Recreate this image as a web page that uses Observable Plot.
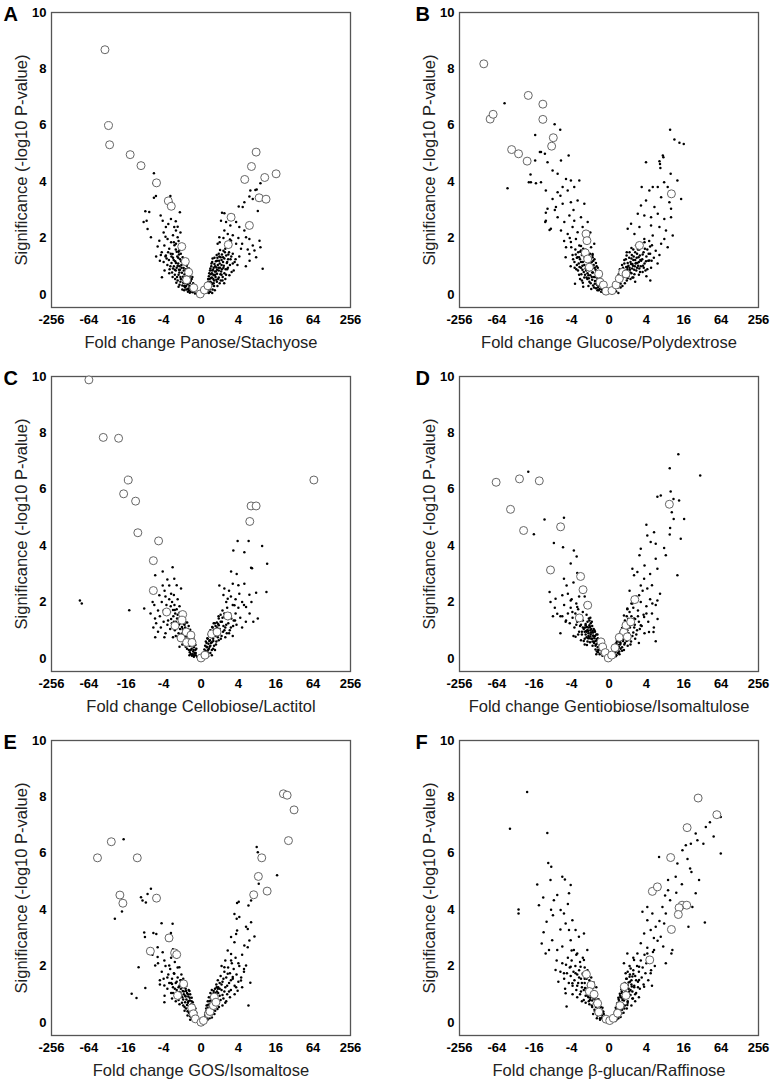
<!DOCTYPE html>
<html><head><meta charset="utf-8">
<script src="https://cdn.jsdelivr.net/npm/d3@7"></script>
<script src="https://cdn.jsdelivr.net/npm/@observablehq/plot@0.6"></script>
<style>
body{margin:0;background:#fff;}
#wrap{position:relative;width:773px;height:1083px;background:#fff;font-family:"Liberation Sans",Arial,sans-serif;}
#wrap svg{position:absolute;}
</style></head><body><div id="wrap"></div>
<script>
// x values are log2 fold change (axis labelled as signed powers of 2), y = -log10 P
const xTicks = [-8,-6,-4,-2,0,2,4,6,8];
const yTicks = [0,2,4,6,8,10];
const letters = ["A","B","C","D","E","F"];
const xTitles = ["Fold change Panose/Stachyose","Fold change Glucose/Polydextrose","Fold change Cellobiose/Lactitol","Fold change Gentiobiose/Isomaltulose","Fold change GOS/Isomaltose","Fold change β-glucan/Raffinose"];
const yTitle = "Significance (-log10 P-value)";

const circlesA = [[-5.14,8.68],[-4.95,5.99],[-4.89,5.31],[-3.79,4.96],[-3.21,4.57],[-2.38,3.96],[-1.75,3.32],[-1.59,3.13],[-1.03,1.70],[-0.84,1.17],[-0.66,0.79],[-0.77,0.52],[-0.39,0.24],[-0.04,0.02],[0.18,0.16],[0.37,0.31],[1.46,1.77],[1.61,2.74],[2.59,2.45],[2.34,4.08],[2.70,4.54],[2.95,5.05],[3.41,4.15],[4.02,4.28],[3.11,3.43],[3.48,3.38]];
const dotsA = [[-2.52,4.30],[-2.55,3.95],[-2.41,3.49],[-2.52,3.43],[-1.64,3.49],[-1.57,3.27],[-1.13,2.92],[-2.77,2.93],[-3.07,2.57],[-2.86,2.32],[-2.68,2.03],[-2.09,0.61],[-2.98,2.95],[-2.91,2.62],
[-2.16,2.8],[-2.05,2.62],[-1.88,2.39],[-1.61,2.68],[-1.43,2.39],[-1.34,2.27],[-1.25,2.03],[-2.32,1.70],[-2.23,1.91],[-1.96,1.74],[-1.79,1.97],[-1.70,1.62],[-1.52,1.44],[-1.34,1.80],[-1.16,1.56],[-1.88,1.38],[-2.0,2.2],[-1.9,2.05],[-1.75,2.5],[-1.5,2.1],[-1.45,1.85],[-1.2,1.9],[-2.1,1.5],[-2.4,1.35],[-1.6,1.85],[-1.25,2.4],[-1.35,2.6],[-1.1,2.2],[-2.2,1.2],
[-0.32,0.04],[-0.38,0.12],[-0.45,0.08],[-0.52,0.18],[-0.41,0.22],[-0.58,0.28],[-0.49,0.33],[-0.66,0.21],[-0.62,0.4],[-0.55,0.48],[-0.72,0.36],[-0.69,0.52],[-0.78,0.44],[-0.61,0.62],[-0.83,0.58],[-0.74,0.68],[-0.91,0.49],[-0.88,0.72],[-0.68,0.8],[-0.96,0.63],[-0.81,0.9],[-1.02,0.77],[-0.93,0.94],[-1.1,0.62],[-0.76,1.02],[-1.05,1.05],[-1.18,0.88],[-0.89,1.15],[-1.22,1.1],[-1.12,1.25],[-0.98,1.32],[-1.3,0.95],[-1.27,1.35],[-1.38,1.18],[-1.08,1.45],[-1.45,1.0],[-1.2,1.52],[-1.5,1.3],[-1.35,1.6],[-1.58,1.12],[-1.62,1.45],[-1.15,1.68],[-1.72,1.22],[-1.42,1.75],[-1.8,1.05],[-1.25,0.5],[-1.4,0.7],[-1.55,0.78],[-1.68,0.9],[-1.32,0.42],[-1.0,0.32],[-1.15,0.35],[-0.85,0.25],[-0.9,0.15],[-0.7,0.1],[-0.6,0.06],[-1.9,1.35],[-2.0,1.15],[-1.95,0.85],[-2.15,1.4],[-0.5,0.55],[-0.55,0.1],[-0.64,0.14],[-0.8,0.3],[-0.95,0.42],[-1.08,0.55],[-1.2,0.7],[-1.35,0.85],[-0.72,0.92],[-0.86,1.08],[-1.0,1.2],[-1.15,1.0],[-0.58,0.7],
[1.125,2.90],[1.25,2.88],[2.02,3.12],[2.23,3.10],[2.32,3.27],[2.64,3.69],[2.77,3.39],[2.91,3.71],[3.04,2.96],[3.18,3.95],[2.59,3.48],[1.75,2.8],[1.88,2.57],[2.05,2.39],[2.32,2.27],[2.41,2.03],[2.59,1.97],[2.77,1.74],[2.86,1.56],[2.95,1.32],[3.13,1.91],[3.18,1.68],[3.30,0.91],[2.59,1.44],[2.14,1.62],[1.88,1.80],[1.61,1.91],[1.43,2.15],[1.25,2.27],[0.98,2.03],[0.89,1.80],[1.07,2.62],[1.34,2.57],[1.57,2.45],[2.4,1.0],[2.5,1.6],[2.2,1.8],[2.6,1.2],[1.55,1.95],[1.7,2.1],[2.0,2.0],[1.2,2.0],[1.0,1.85],[2.98,3.72],
[0.3,0.06],[0.36,0.14],[0.42,0.05],[0.33,0.25],[0.47,0.2],[0.4,0.36],[0.55,0.3],[0.5,0.45],[0.62,0.38],[0.45,0.55],[0.58,0.6],[0.7,0.5],[0.52,0.72],[0.66,0.7],[0.78,0.62],[0.6,0.85],[0.74,0.82],[0.86,0.74],[0.68,0.95],[0.82,0.96],[0.95,0.85],[0.72,1.08],[0.9,1.05],[1.02,0.95],[0.8,1.18],[0.97,1.2],[1.1,1.05],[0.88,1.3],[1.05,1.32],[1.18,1.15],[0.95,1.45],[1.12,1.42],[1.25,1.28],[1.02,1.58],[1.2,1.55],[1.35,1.38],[1.3,1.62],[1.45,1.25],[1.5,1.5],[1.55,1.05],[1.62,1.35],[1.4,0.9],[1.25,0.75],[1.1,0.7],[0.95,0.6],[0.85,0.45],[0.7,0.3],[0.62,0.18],[0.5,0.1],[1.7,1.1],[1.75,0.85],[1.85,1.25],[1.95,1.05],[2.05,1.35],[1.3,0.55],[1.15,0.5],[1.0,0.4],[0.38,0.45],[0.42,0.65],[0.48,0.85],[0.55,1.0],[0.6,1.15],[0.44,0.3],[0.56,0.42],[0.66,0.55],[0.76,0.7],[0.86,0.88],[1.08,0.82],[1.2,0.95],[1.38,1.12],[0.35,0.2]];
const coreA = [[-0.35,0.3],[-0.42,0.4],[-0.5,0.25],[-0.46,0.62],[-0.56,0.52],[-0.62,0.3],[-0.68,0.45],[-0.74,0.58],[-0.7,0.2],[-0.8,0.75],[-0.86,0.4],[-0.92,0.85],[-0.98,0.52],[-1.04,0.95],[-1.1,0.45],[-1.16,0.78],[-1.22,1.3],[-1.28,0.62],[-1.34,1.12],[-1.4,0.88],[-1.46,1.22],[-1.52,0.62],[-1.58,1.35],[-1.64,1.0],[-1.7,0.75],[-1.76,1.5],[-1.84,1.28],[-0.64,0.92],[-0.72,1.12],[-0.84,1.22],[-0.96,1.08],[-1.06,1.18],[-1.18,1.42],[-1.3,1.52],[-0.9,0.3],[-1.0,0.18],[-0.78,0.18],[-1.2,0.28],[-1.38,0.55],[-1.5,0.92],[-0.55,0.85],[-0.6,0.42],[-0.88,0.62],[-1.12,0.88],[-1.25,1.02],
[0.32,0.38],[0.38,0.55],[0.44,0.75],[0.5,0.92],[0.56,1.1],[0.62,1.28],[0.68,0.4],[0.74,0.15],[0.8,0.82],[0.86,1.2],[0.92,0.55],[0.98,1.35],[1.04,0.72],[1.1,1.22],[1.16,0.62],[1.22,1.02],[1.28,1.5],[1.34,0.7],[1.4,1.15],[1.46,1.42],[1.52,0.68],[1.58,1.25],[1.64,0.8],[1.7,1.45],[1.8,1.15],[0.4,0.2],[0.46,0.1],[0.52,0.58],[0.58,0.75],[0.64,0.88],[0.7,0.68],[0.76,1.0],[0.82,0.52],[0.88,0.3],[0.94,0.95],[1.0,1.1],[1.06,0.5],[1.12,0.9],[1.18,1.32],[1.24,0.4],[1.32,0.9],[1.44,0.95],[0.72,1.3],[0.84,1.4],[0.6,0.05]];

const circlesB = [[-6.70,8.18],[-6.36,6.22],[-6.20,6.39],[-5.21,5.14],[-4.84,4.99],[-4.38,4.73],[-4.32,7.06],[-3.54,6.75],[-3.54,6.21],[-2.98,5.56],[-3.07,5.26],[3.34,3.57],[1.63,1.74],[-1.23,2.15],[-1.18,1.91],[-1.27,1.48],[-1.14,1.26],[-1.05,0.97],[-0.55,0.73],[-0.48,0.44],[-0.30,0.34],[-0.16,0.12],[0.16,0.14],[0.38,0.34],[0.55,0.56],[0.73,0.79],[0.91,0.73]];
const dotsB = [[-5.59,6.78],[-3.95,5.66],[-2.91,6.04],[-2.61,5.84],[-3.64,5.05],[-3.43,4.99],[-5.43,3.77],[-4.18,3.98],[-3.91,3.95],[-3.64,3.98],[-3.95,4.75],[-3.29,4.69],[-3.02,4.40],[-2.57,4.75],[-2.16,4.93],[-2.75,4.28],[-2.30,4.10],[-2.04,4.04],[-1.59,4.04],[-3.38,3.69],[-3.02,3.39],[-2.75,3.63],[-2.48,3.81],[-2.21,3.69],[-1.86,3.81],[-3.29,3.04],[-2.84,3.10],[-2.48,3.22],[-2.04,3.27],[-1.68,3.33],[-1.32,3.22],[-3.38,2.62],[-3.11,2.33],[-2.75,2.74],[-2.39,2.57],[-2.12,2.80],[-1.86,2.62],[-1.5,2.74],[-1.14,2.57],[-2.57,2.27],[-2.21,2.15],[-1.95,2.39],[-1.68,2.21],[-1.41,2.39],[-2.30,1.68],[-2.04,1.86],[-1.77,1.97],[-1.59,1.74],[-1.5,1.56],[-1.68,1.32],[-1.5,1.15],[-1.32,1.38],[-0.96,1.68],[-0.88,1.44],[-0.79,1.8],[-1.82,0.38],[-4.29,3.98],[-4.2,4.26],[-3.70,5.05],[-3.38,2.9],[-3.41,2.57],[-3.18,2.29],[-2.32,1.32],[-1.38,0.28],[-2.02,1.68],[-2.6,3.5],[-2.9,3.0],[-1.9,3.0],[-2.1,2.0],[-1.2,2.0],[-1.0,2.2],[-2.4,1.9],
[-0.18,0.06],[-0.25,0.15],[-0.32,0.08],[-0.28,0.28],[-0.4,0.2],[-0.36,0.38],[-0.48,0.3],[-0.45,0.5],[-0.56,0.42],[-0.52,0.62],[-0.64,0.35],[-0.62,0.55],[-0.7,0.7],[-0.58,0.78],[-0.75,0.48],[-0.8,0.62],[-0.72,0.88],[-0.86,0.78],[-0.9,0.52],[-0.66,1.0],[-0.95,0.92],[-0.82,1.05],[-1.0,0.68],[-1.05,0.85],[-0.92,1.15],[-1.1,1.02],[-1.15,0.75],[-1.0,1.28],[-1.2,1.18],[-1.25,0.92],[-1.12,1.38],[-1.32,1.05],[-1.3,1.3],[-1.4,1.15],[-1.22,1.5],[-1.45,1.4],[-1.5,0.95],[-1.55,1.25],[-1.38,1.62],[-1.62,1.1],[-1.65,1.5],[-1.72,1.3],[-1.8,1.6],[-1.5,1.72],[-1.35,0.8],[-1.2,0.6],[-1.05,0.45],[-0.85,0.32],[-0.7,0.22],[-0.55,0.15],[-1.6,0.7],[-1.75,0.9],[-1.85,1.15],[-1.95,1.4],[-1.1,0.3],[-0.95,0.2],[-2.05,1.0],[-1.45,0.5],[-0.78,1.25],[-0.88,1.4],[-0.42,0.1],[-0.6,0.25],[-0.76,0.38],[-0.92,0.62],[-1.08,0.58],[-1.28,0.7],[-1.42,0.88],[-1.58,0.98],[-0.68,0.62],[-0.84,0.95],
[3.27,5.84],[3.5,5.5],[3.77,5.38],[4.0,5.34],[1.98,4.69],[2.70,4.73],[2.88,4.93],[2.75,4.49],[3.30,4.28],[3.66,4.04],[2.95,3.98],[2.34,3.81],[1.75,3.81],[2.16,3.69],[2.61,3.81],[3.14,3.81],[3.86,3.39],[3.23,3.27],[3.32,3.04],[2.79,3.45],[2.43,3.10],[1.98,3.33],[1.71,3.16],[1.54,2.86],[1.89,2.80],[2.25,2.74],[2.61,2.86],[2.96,2.68],[3.32,2.74],[2.25,2.45],[2.70,2.39],[3.05,2.27],[3.41,2.09],[2.34,2.09],[2.16,1.21],[2.21,0.5],[2.79,1.80],[3.14,1.68],[2.96,1.97],[1.0,2.33],[1.18,2.51],[1.36,2.15],[1.63,2.39],[1.89,1.97],[2.91,4.87],[2.73,4.63],
[0.2,0.1],[0.3,0.2],[0.38,0.12],[0.42,0.35],[0.5,0.25],[0.55,0.48],[0.62,0.38],[0.6,0.65],[0.7,0.55],[0.68,0.8],[0.78,0.7],[0.75,0.95],[0.85,0.85],[0.82,1.1],[0.92,0.98],[0.9,1.25],[1.0,1.12],[1.0,0.8],[1.08,1.3],[1.1,0.95],[1.15,1.15],[1.2,0.75],[1.22,1.4],[1.28,1.02],[1.3,1.22],[1.35,0.88],[1.4,1.5],[1.42,1.1],[1.48,1.3],[1.5,0.95],[1.55,1.6],[1.6,1.15],[1.65,1.38],[1.7,1.0],[1.75,1.7],[1.78,1.25],[1.85,1.5],[1.9,1.1],[1.95,0.85],[2.0,1.35],[2.05,1.6],[2.1,1.2],[2.2,1.45],[2.25,0.95],[2.3,1.75],[2.4,1.3],[1.3,0.6],[1.15,0.55],[0.95,0.5],[0.85,0.4],[1.6,0.7],[1.8,0.8],[2.0,0.65],[1.45,1.75],[1.2,1.65],[0.95,1.5],[2.5,1.55],[2.6,1.1],[2.15,1.9],[1.9,1.85],[1.05,0.65],[0.72,0.3],[2.7,1.4],[1.4,0.45],[0.5,0.05],[1.12,0.88],[1.25,1.08],[1.38,1.0],[1.52,1.12],[1.68,1.22],[0.98,0.98],[1.62,0.92],[1.82,1.02]];
const coreB = [[-0.22,0.22],[-0.3,0.38],[-0.38,0.5],[-0.34,0.15],[-0.44,0.65],[-0.5,0.2],[-0.52,0.82],[-0.58,0.32],[-0.6,0.95],[-0.66,0.48],[-0.7,1.12],[-0.74,0.62],[-0.8,0.25],[-0.84,1.2],[-0.9,0.78],[-0.94,1.02],[-0.98,0.4],[-1.02,1.45],[-1.06,0.95],[-1.12,1.22],[-1.16,0.55],[-1.22,0.85],[-1.26,1.6],[-1.32,0.6],[-1.36,1.48],[-1.42,1.02],[-1.48,0.72],[-1.54,1.52],[-1.6,1.32],[-1.66,0.85],[-1.72,1.05],[-1.78,1.42],[-1.84,0.95],[-1.92,1.25],[-0.62,0.15],[-0.76,0.95],[-0.88,1.32],[-1.0,1.1],[-1.1,0.68],[-1.28,1.35],[-1.4,0.42],[-1.55,0.55],
[0.45,0.55],[0.52,0.72],[0.58,0.9],[0.64,0.5],[0.7,1.05],[0.76,0.62],[0.82,1.22],[0.88,0.72],[0.94,1.38],[1.0,0.58],[1.04,1.02],[1.1,1.5],[1.14,0.78],[1.2,1.28],[1.24,0.92],[1.3,1.6],[1.36,0.72],[1.4,1.22],[1.46,0.85],[1.5,1.45],[1.56,1.02],[1.62,1.6],[1.66,0.8],[1.72,1.2],[1.8,1.42],[1.86,0.95],[1.92,1.62],[1.98,1.18],[2.05,0.9],[2.12,1.45],[2.2,1.7],[2.28,1.2],[1.18,1.08],[1.32,1.35],[1.45,1.12],[1.58,1.32],[0.98,0.9],[1.25,0.6],[1.7,1.75],[0.35,0.25],[0.28,0.35],[0.62,0.25]];

const circlesC = [[-6.0,9.88],[-5.23,7.84],[-4.41,7.81],[-3.89,6.33],[-4.14,5.84],[-3.5,5.58],[-3.38,4.46],[-2.27,4.17],[-2.55,3.47],[-2.55,2.41],[6.04,6.33],[2.68,5.41],[2.95,5.41],[2.61,4.86],[-1.84,1.65],[-0.98,1.56],[-1.02,1.36],[-1.39,1.16],[-0.79,0.94],[-0.54,0.83],[-1.07,0.73],[-0.77,0.57],[-0.48,0.57],[0.0,0.02],[0.21,0.12],[0.57,0.87],[0.86,0.94],[1.43,1.51]];
const dotsC = [[-6.48,2.06],[-6.38,1.95],[-3.84,1.71],[-3.04,1.77],[-2.45,2.95],[-2.05,3.09],[-1.52,3.24],[-2.05,2.59],[-1.7,2.59],[-1.43,2.83],[-1.07,2.48],[-2.59,2.0],[-2.46,1.42],[-2.45,0.75],[-1.96,0.75],[-2.23,2.24],[-1.8,2.8],[-1.3,2.6],[-2.7,1.6],[-2.3,0.95],[-2.55,1.1],
[-0.2,0.05],[-0.28,0.12],[-0.35,0.2],[-0.3,0.3],[-0.42,0.25],[-0.38,0.4],[-0.5,0.35],[-0.45,0.5],[-0.58,0.45],[-0.52,0.62],[-0.65,0.55],[-0.6,0.72],[-0.72,0.65],[-0.68,0.85],[-0.8,0.78],[-0.76,0.98],[-0.88,0.9],[-0.85,1.1],[-0.95,1.0],[-0.92,1.22],[-1.02,1.12],[-1.0,1.35],[-1.1,1.25],[-1.08,1.5],[-1.18,1.4],[-1.15,1.62],[-1.25,1.55],[-1.3,1.75],[-1.38,1.6],[-1.42,1.9],[-1.5,1.72],[-1.55,2.0],[-1.62,1.85],[-1.7,2.1],[-1.75,1.6],[-1.85,1.9],[-1.9,2.2],[-2.0,1.7],[-2.1,2.0],[-2.2,1.5],[-1.3,1.1],[-1.2,0.9],[-1.45,1.3],[-1.6,1.4],[-1.35,0.8],[-1.05,0.7],[-0.9,0.5],[-0.75,0.35],[-0.6,0.22],[-0.48,0.1],[-1.8,1.2],[-2.0,1.3],[-2.15,1.1],[-2.3,1.7],[-1.65,1.05],[-1.5,0.75],[-2.4,1.25],[-1.25,2.1],[-1.6,2.3],[-1.95,2.4],[-1.45,2.25],[-1.15,1.85],[-2.5,1.9],[-1.9,0.9],[-0.38,0.06],[-0.55,0.16],[-0.65,0.3],[-0.98,0.62],[-1.4,1.0],[-0.32,0.5],[-0.4,0.68],[-0.48,0.82],[-0.58,0.95],[-0.7,1.05],[-0.82,1.28],
[1.96,4.17],[2.32,3.77],[2.55,4.17],[3.27,3.99],[1.73,3.83],[3.54,3.36],[2.68,3.22],[2.73,3.2],[1.61,3.09],[1.70,2.65],[2.32,2.65],[1.91,3.0],[3.5,2.36],[2.95,2.33],[2.59,2.26],[2.05,2.30],[2.41,1.83],[3.04,1.42],[2.80,1.30],[0.98,2.59],[1.25,2.48],[1.43,2.12],[1.79,1.89],[2.2,2.0],[2.6,1.6],[1.5,2.4],[2.0,2.6],[2.7,2.0],
[0.15,0.05],[0.2,0.15],[0.28,0.1],[0.25,0.28],[0.35,0.22],[0.32,0.4],[0.42,0.35],[0.4,0.52],[0.5,0.45],[0.48,0.65],[0.58,0.58],[0.55,0.78],[0.65,0.7],[0.62,0.9],[0.72,0.82],[0.7,1.02],[0.8,0.95],[0.78,1.15],[0.88,1.05],[0.85,1.28],[0.95,1.18],[0.95,1.42],[1.05,1.3],[1.05,1.55],[1.15,1.45],[1.15,1.7],[1.25,1.6],[1.25,1.0],[1.35,1.2],[1.4,1.8],[1.45,1.4],[1.55,1.6],[1.6,1.1],[1.7,1.9],[1.75,1.35],[1.85,1.6],[1.9,1.2],[2.0,1.8],[2.1,1.45],[2.2,1.1],[1.1,0.8],[0.95,0.65],[0.8,0.5],[0.65,0.35],[0.5,0.2],[1.3,0.75],[1.5,0.9],[1.7,0.8],[0.38,0.08],[1.35,2.0],[1.6,2.2],[1.2,2.25],[1.85,2.1],[2.3,1.9],[2.4,1.3],[0.58,0.12],[0.75,0.3],[1.0,0.9],[1.2,1.15],[0.9,0.75],[0.3,0.55],[0.36,0.7],[0.42,0.85],[0.5,1.0],[0.6,1.12],[0.68,1.25]];
const coreC = [[-0.25,0.35],[-0.3,0.48],[-0.35,0.62],[-0.28,0.2],[-0.42,0.75],[-0.45,0.15],[-0.5,0.9],[-0.55,0.3],[-0.58,1.02],[-0.62,0.45],[-0.66,1.15],[-0.7,0.55],[-0.74,1.28],[-0.78,0.65],[-0.82,0.42],[-0.86,0.82],[-0.9,1.4],[-0.94,0.7],[-0.98,1.05],[-1.04,0.88],[-1.08,1.6],[-1.12,1.05],[-1.18,1.2],[-1.22,0.75],[-1.28,1.42],[-1.34,1.3],[-1.4,1.72],[-1.48,1.5],[-1.56,1.25],[-1.66,1.65],[-1.76,1.35],[-0.4,0.3],[-0.52,0.48],[-0.64,0.72],[-0.72,0.9],[-0.8,1.05],[-0.88,1.2],[-0.36,0.12],[-0.62,0.12],[-1.0,0.5],[-1.15,0.42],
[0.12,0.1],[0.18,0.32],[0.22,0.45],[0.26,0.6],[0.3,0.18],[0.34,0.72],[0.38,0.3],[0.42,0.85],[0.46,0.42],[0.5,0.98],[0.54,0.55],[0.58,0.3],[0.62,1.1],[0.66,0.62],[0.7,0.45],[0.74,1.25],[0.78,0.8],[0.82,0.6],[0.86,1.1],[0.9,0.9],[0.94,1.5],[1.0,1.05],[1.06,0.7],[1.12,1.3],[1.18,0.95],[1.24,1.48],[1.3,1.1],[1.38,0.9],[1.46,1.25],[1.54,1.0],[1.62,1.42],[1.72,1.15],[1.82,1.35],[0.2,0.22],[0.44,0.62],[0.56,0.75],[0.68,0.92],[0.8,1.02],[0.92,1.22],[0.3,0.42],[0.24,0.05]];

const circlesD = [[-6.04,6.25],[-4.79,6.37],[-3.73,6.30],[-5.27,5.29],[-4.57,4.54],[-2.59,4.67],[-3.13,3.14],[-1.52,2.91],[-1.39,2.44],[-1.14,1.89],[-1.59,1.44],[3.23,5.47],[1.38,2.09],[-0.43,0.59],[-0.34,0.41],[-0.20,0.21],[-0.04,0.02],[0.14,0.12],[0.32,0.38],[0.79,0.94],[0.91,1.18],[0.98,0.77],[1.16,1.30],[0.55,0.75]];
const dotsD = [[-4.32,6.62],[-3.45,4.93],[-4.02,4.41],[-2.41,4.99],[-2.46,3.95],[-2.95,4.10],[-1.88,3.83],[-1.73,3.62],[-2.05,3.37],[-1.70,3.03],[-3.18,2.36],[-3.13,2.0],[-2.86,2.12],[-2.77,1.59],[-2.5,2.24],[-2.41,2.83],[-2.27,2.59],[-2.05,2.06],[-1.70,1.83],[-1.96,1.65],[-2.32,1.30],[-1.79,0.77],[-2.9,1.8],[-2.6,1.5],[-1.5,2.5],[-1.3,2.2],[-2.2,2.3],[-1.9,2.7],[-3.0,1.5],[-2.6,0.9],
[-0.2,0.05],[-0.3,0.15],[-0.25,0.25],[-0.38,0.22],[-0.35,0.38],[-0.45,0.32],[-0.42,0.5],[-0.55,0.42],[-0.5,0.6],[-0.62,0.52],[-0.6,0.72],[-0.7,0.62],[-0.68,0.85],[-0.78,0.72],[-0.75,0.95],[-0.85,0.82],[-0.82,1.05],[-0.92,0.92],[-0.9,1.15],[-1.0,1.0],[-0.98,1.25],[-1.08,1.1],[-1.1,0.8],[-1.15,1.3],[-1.2,0.95],[-1.25,1.18],[-1.3,0.7],[-1.35,1.05],[-1.4,1.35],[-1.45,0.85],[-1.5,1.2],[-1.55,1.5],[-1.6,0.95],[-1.7,1.3],[-1.8,1.6],[-1.85,1.1],[-1.95,1.45],[-2.05,1.8],[-2.1,1.25],[-2.2,1.6],[-2.3,1.35],[-1.65,1.75],[-1.4,1.65],[-1.2,1.55],[-1.0,1.45],[-0.88,0.6],[-0.72,0.45],[-0.58,0.3],[-0.95,0.7],[-1.15,0.6],[-1.3,0.5],[-1.5,0.65],[-2.4,1.9],[-2.0,2.1],[-1.75,1.95],[-0.5,0.15],[-0.65,0.25],[-1.05,1.35],[-1.25,0.85],[-0.8,0.55],[-2.5,1.5],[-1.9,0.8],[-1.6,2.2],[-1.3,1.9],[-0.98,0.85],[-1.12,0.98],[-1.02,1.12],[-1.18,1.12],[-0.88,0.98],[-1.06,0.72],
[3.71,7.24],[3.25,6.75],[4.88,6.49],[2.59,5.74],[2.77,5.78],[3.3,5.92],[3.45,5.66],[3.75,5.6],[3.36,5.19],[3.46,4.95],[4.02,4.95],[3.27,4.63],[3.25,4.40],[3.84,4.25],[3.66,2.95],[2.0,4.74],[2.05,4.36],[2.41,4.48],[2.5,4.07],[2.95,3.92],[3.04,3.66],[1.70,3.89],[1.63,3.66],[2.23,4.13],[2.5,3.54],[2.59,3.18],[2.73,2.30],[2.59,2.06],[2.32,1.95],[1.88,1.47],[2.38,0.94],[2.5,0.61],[2.14,0.94],[1.25,3.18],[1.34,2.95],[1.52,3.07],[1.70,2.59],[1.88,2.83],[2.05,2.48],[1.61,2.24],[1.25,1.95],[0.98,1.77],[0.80,1.53],[1.34,1.42],[1.70,1.18],[2.2,3.0],[1.9,3.3],[2.3,2.6],[1.1,2.4],[2.0,1.6],
[0.2,0.08],[0.28,0.18],[0.25,0.3],[0.35,0.25],[0.32,0.42],[0.42,0.35],[0.4,0.55],[0.5,0.48],[0.48,0.68],[0.58,0.6],[0.55,0.8],[0.65,0.72],[0.62,0.95],[0.72,0.85],[0.7,1.08],[0.8,0.98],[0.78,1.2],[0.88,1.1],[0.85,1.35],[0.95,1.25],[0.95,1.5],[1.05,1.4],[1.05,0.9],[1.1,1.65],[1.15,1.2],[1.2,1.5],[1.25,0.8],[1.3,1.8],[1.35,1.1],[1.4,1.4],[1.5,1.0],[1.55,1.7],[1.6,1.3],[1.7,2.0],[1.75,1.15],[1.85,1.55],[1.9,0.9],[2.0,1.85],[2.1,1.3],[2.2,2.1],[2.3,1.6],[2.4,1.1],[1.0,0.65],[0.85,0.55],[0.7,0.4],[0.55,0.25],[0.4,0.12],[1.15,0.5],[1.4,0.7],[1.6,0.55],[0.5,0.2],[0.9,0.75],[1.2,1.95],[1.45,2.2],[0.98,1.75],[2.5,1.9],[2.6,1.4],[1.8,2.4],[0.62,0.35],[0.75,0.62],[0.45,0.3],[0.52,0.4],[0.6,0.5],[0.36,0.52],[0.42,0.7]];
const coreD = [[-0.45,0.3],[-0.5,0.42],[-0.55,0.55],[-0.6,0.4],[-0.65,0.68],[-0.7,0.5],[-0.75,0.8],[-0.8,0.6],[-0.85,0.92],[-0.9,0.7],[-0.95,1.05],[-1.0,0.78],[-1.05,1.18],[-1.1,0.9],[-1.15,1.02],[-1.2,0.75],[-1.25,1.22],[-1.3,0.95],[-1.35,0.62],[-1.4,1.1],[-1.45,0.95],[-1.55,1.15],[-1.65,0.85],[-1.75,1.2],[-0.58,0.22],[-0.72,0.32],[-0.88,0.45],[-1.02,0.58],[-1.18,0.48],[-0.62,0.85],[-0.78,1.0],[-0.92,1.3],[-1.08,1.42],[-1.22,0.98],[-0.98,0.92],[-0.82,0.78],[-1.12,0.72],[-1.28,1.1],[-0.68,0.15],[-0.35,0.1],
[0.3,0.22],[0.34,0.35],[0.38,0.5],[0.42,0.62],[0.46,0.2],[0.5,0.75],[0.54,0.4],[0.58,0.88],[0.62,0.55],[0.66,1.0],[0.7,0.28],[0.74,0.68],[0.78,1.12],[0.82,0.5],[0.86,0.85],[0.9,1.28],[0.94,0.62],[0.98,1.0],[1.02,1.4],[1.06,0.78],[1.12,1.1],[1.18,0.6],[1.24,1.32],[1.3,0.92],[1.38,1.2],[1.46,0.85],[1.55,1.5],[1.65,1.05],[0.44,0.45],[0.52,0.6],[0.6,0.72],[0.68,0.85],[0.76,0.95],[0.84,1.08],[0.92,1.18],[0.25,0.12],[0.36,0.08],[0.56,0.15],[0.8,0.3],[1.0,0.45]];

const circlesE = [[-5.54,5.84],[-4.80,6.41],[-4.34,4.52],[-4.18,4.23],[-3.41,5.84],[-2.38,4.41],[-2.71,2.53],[-1.71,3.0],[-1.41,2.47],[-1.30,2.41],[4.41,8.11],[4.61,8.06],[4.98,7.54],[4.68,6.45],[3.25,5.84],[3.07,5.18],[3.54,4.66],[2.82,4.53],[-0.93,1.37],[-1.25,0.96],[-0.5,0.52],[-0.41,0.31],[-0.30,0.13],[0.0,0.01],[0.13,0.07],[0.41,0.31],[0.48,0.39],[0.71,0.9],[0.66,0.6],[0.80,0.72]];
const dotsE = [[-4.14,6.5],[-4.61,3.68],[-4.23,3.94],[-3.71,1.02],[-3.45,0.87],[-3.34,1.96],[-2.98,1.22],[-3.04,3.19],[-3.0,3.03],[-3.21,4.44],[-3.13,4.33],[-2.95,4.26],[-2.86,4.56],[-2.68,4.74],[-2.55,3.17],[-2.39,3.14],[-2.11,3.52],[-1.52,3.50],[-1.61,3.17],[-1.79,2.91],[-2.32,2.67],[-2.05,2.49],[-2.32,2.32],[-1.96,2.20],[-1.70,2.02],[-1.96,1.31],[-2.45,2.02],[-1.96,0.72],[-1.55,1.37],[-1.43,1.73],[-1.16,1.96],[-2.2,1.5],[-1.8,1.6],[-2.6,2.4],[-1.3,2.3],[-1.5,2.6],
[-0.18,0.05],[-0.25,0.15],[-0.32,0.1],[-0.3,0.28],[-0.4,0.22],[-0.38,0.4],[-0.48,0.32],[-0.45,0.52],[-0.55,0.45],[-0.52,0.65],[-0.62,0.58],[-0.6,0.78],[-0.7,0.7],[-0.68,0.92],[-0.78,0.82],[-0.75,1.05],[-0.85,0.95],[-0.82,1.2],[-0.92,1.1],[-0.9,1.35],[-1.0,1.25],[-1.0,0.9],[-1.08,1.5],[-1.1,1.05],[-1.15,1.3],[-1.2,0.8],[-1.25,1.6],[-1.3,1.15],[-1.35,1.4],[-1.4,0.95],[-1.45,1.75],[-1.5,1.25],[-1.55,1.55],[-1.6,1.05],[-1.65,1.9],[-1.7,1.4],[-1.75,1.7],[-1.8,1.2],[-1.9,2.0],[-2.0,1.55],[-2.1,1.8],[-0.95,0.6],[-0.8,0.5],[-0.65,0.35],[-0.5,0.18],[-1.15,0.65],[-1.35,0.75],[-1.55,0.85],[-0.58,0.1],[-0.72,0.25],[-0.88,0.42],[-1.05,1.7],[-1.25,1.95],[-1.4,2.15],[-2.2,1.35],[-1.95,0.95],[-2.3,2.1],[-1.6,2.3],[-0.95,1.55],[-0.36,0.55],[-0.44,0.72],[-0.5,0.88],[-0.58,1.0],[-0.66,1.15],
[2.98,6.22],[3.04,6.04],[4.07,5.22],[3.09,4.92],[1.93,4.24],[2.02,4.28],[2.54,4.15],[2.68,4.33],[2.68,3.56],[2.41,3.40],[2.5,3.32],[1.79,3.85],[1.91,3.68],[2.05,3.74],[2.86,3.05],[2.59,2.91],[2.5,2.67],[2.32,2.73],[1.88,3.14],[1.79,2.85],[1.61,3.03],[1.93,3.26],[2.64,1.41],[2.54,0.6],[2.41,2.02],[2.14,1.49],[1.88,1.25],[1.96,1.13],[1.61,2.43],[1.43,2.55],[1.61,2.20],[1.25,1.96],[1.43,1.73],[1.70,1.61],[2.2,2.4],[2.0,2.1],[2.3,1.8],
[0.18,0.05],[0.25,0.15],[0.22,0.28],[0.32,0.22],[0.3,0.4],[0.4,0.32],[0.38,0.52],[0.48,0.45],[0.45,0.65],[0.55,0.58],[0.52,0.78],[0.62,0.7],[0.6,0.92],[0.7,0.82],[0.68,1.05],[0.78,0.95],[0.75,1.2],[0.85,1.1],[0.82,1.35],[0.92,1.25],[0.9,1.5],[1.0,1.4],[1.0,0.95],[1.05,1.65],[1.1,1.15],[1.15,1.45],[1.2,0.85],[1.25,1.8],[1.3,1.25],[1.35,1.6],[1.4,1.0],[1.45,1.95],[1.5,1.4],[1.55,1.75],[1.6,1.15],[1.65,2.1],[1.7,1.55],[1.75,1.9],[1.8,1.3],[1.85,2.3],[1.9,1.7],[2.0,1.45],[2.05,2.0],[2.15,1.6],[0.95,0.7],[0.8,0.55],[0.65,0.4],[0.5,0.22],[0.35,0.1],[1.15,0.6],[1.35,0.75],[1.55,0.9],[1.8,1.0],[0.58,0.18],[0.72,0.3],[0.88,0.48],[1.1,2.0],[1.3,2.2],[2.2,1.25],[2.3,1.9],[0.3,0.6],[0.36,0.75],[0.42,0.9],[0.5,1.05],[0.58,1.15]];
const coreE = [[-0.2,0.2],[-0.25,0.35],[-0.3,0.5],[-0.35,0.15],[-0.4,0.62],[-0.45,0.28],[-0.5,0.75],[-0.55,0.4],[-0.6,0.88],[-0.65,0.52],[-0.7,1.0],[-0.75,0.62],[-0.8,1.12],[-0.85,0.72],[-0.9,1.25],[-0.95,0.82],[-1.0,1.38],[-1.05,0.95],[-1.1,1.5],[-1.15,1.08],[-1.2,1.25],[-1.25,0.95],[-1.3,1.45],[-1.4,1.2],[-1.5,1.05],[-1.6,1.4],[-0.42,0.1],[-0.58,0.22],[-0.72,0.4],[-0.88,0.55],[-1.02,0.7],[-0.62,1.12],[-0.78,1.3],[-0.92,1.0],[-1.08,1.2],[-0.5,0.45],[-0.68,0.75],[-0.82,0.92],[-0.3,0.05],[-0.98,1.12],
[0.2,0.2],[0.24,0.35],[0.28,0.5],[0.32,0.12],[0.36,0.62],[0.4,0.25],[0.44,0.75],[0.48,0.35],[0.52,0.88],[0.56,0.48],[0.6,1.0],[0.64,0.55],[0.68,1.12],[0.72,0.65],[0.76,0.42],[0.8,0.85],[0.84,1.25],[0.88,0.7],[0.92,1.05],[0.96,0.55],[1.0,1.2],[1.05,0.8],[1.1,1.35],[1.15,0.98],[1.2,1.55],[1.25,1.1],[1.3,0.7],[1.4,1.3],[1.5,1.1],[1.6,1.5],[0.3,0.42],[0.4,0.5],[0.5,0.65],[0.6,0.78],[0.7,0.9],[0.78,1.05],[0.9,1.2],[0.26,0.05],[0.46,0.15],[0.62,0.3]];

const circlesF = [[4.77,7.96],[5.77,7.37],[4.18,6.91],[3.30,5.85],[2.32,4.65],[2.59,4.81],[3.91,4.16],[4.16,4.16],[3.75,4.07],[3.71,3.83],[3.34,3.30],[2.18,2.22],[-1.21,1.71],[-0.96,1.33],[-1.05,1.10],[-0.61,0.68],[-0.55,0.37],[-0.16,0.12],[0.04,0.07],[0.23,0.15],[0.46,0.33],[0.59,0.6],[0.91,0.96],[0.82,1.27],[-0.8,1.0]];
const dotsF = [[-5.30,6.87],[-4.84,4.01],[-4.84,3.87],[-4.38,8.17],[-3.30,6.72],[-3.25,5.66],[-3.09,5.52],[-3.84,4.89],[-3.75,4.16],[-3.34,3.57],[-3.52,4.43],[-3.13,5.05],[-2.95,4.34],[-2.77,4.52],[-2.5,5.17],[-2.36,5.07],[-2.05,4.88],[-2.14,4.58],[-3.39,2.45],[-3.21,2.57],[-3.04,2.92],[-2.77,2.57],[-2.86,1.86],[-2.71,1.45],[-2.41,1.75],[-2.32,1.04],[-2.27,0.57],[-2.59,3.99],[-2.41,3.87],[-2.32,3.51],[-2.14,3.28],[-1.96,3.63],[-1.79,3.28],[-1.61,3.04],[-2.05,2.92],[-1.88,2.57],[-1.70,2.45],[-1.34,2.22],[-1.52,1.98],[-1.79,1.75],[-2.05,1.98],[-1.96,1.39],[-1.16,2.57],[-1.34,3.16],[-3.5,3.2],[-3.0,3.8],[-2.6,3.3],[-2.8,2.2],[-3.6,2.8],[-2.5,2.7],[-3.1,4.0],[-2.2,4.2],
[-0.22,0.08],[-0.3,0.18],[-0.28,0.3],[-0.38,0.25],[-0.36,0.42],[-0.46,0.35],[-0.44,0.55],[-0.55,0.48],[-0.52,0.68],[-0.64,0.6],[-0.6,0.82],[-0.72,0.72],[-0.7,0.95],[-0.82,0.85],[-0.78,1.1],[-0.9,1.0],[-0.88,1.25],[-1.0,1.15],[-0.98,1.4],[-1.1,1.3],[-1.1,0.9],[-1.2,1.55],[-1.22,1.1],[-1.3,1.4],[-1.35,0.8],[-1.4,1.7],[-1.45,1.25],[-1.5,1.55],[-1.55,1.0],[-1.6,1.85],[-1.65,1.4],[-1.7,1.7],[-1.75,1.15],[-1.8,2.0],[-1.85,1.5],[-1.9,1.8],[-1.95,1.3],[-2.0,2.2],[-2.05,1.65],[-2.1,1.95],[-2.15,1.4],[-2.2,2.3],[-2.25,1.75],[-2.3,2.05],[-2.4,1.55],[-1.05,0.65],[-0.9,0.55],[-0.75,0.4],[-0.6,0.28],[-0.48,0.15],[-1.25,0.7],[-1.45,0.75],[-1.7,0.9],[-1.95,1.0],[-1.3,1.95],[-1.55,2.15],[-1.75,2.4],[-2.5,2.1],[-2.6,1.8],[-0.95,1.6],[-1.15,1.85],[-0.65,0.15],[-0.85,0.3],[-2.35,1.2],[-2.0,2.55],[-1.4,2.3],[-1.02,0.8],[-1.15,0.95],[-1.28,1.22],[-0.95,0.92],[-1.12,1.15],
[5.98,7.29],[5.98,5.99],[5.18,6.93],[4.64,6.70],[4.73,6.46],[5.05,6.34],[4.38,6.34],[4.11,6.29],[3.93,6.11],[3.66,5.64],[4.34,5.46],[4.41,5.34],[4.82,5.05],[4.64,4.58],[4.46,4.10],[4.25,3.40],[5.13,3.55],[3.57,5.17],[3.16,5.05],[3.16,4.69],[3.27,4.34],[2.86,4.10],[2.68,5.87],[3.04,3.87],[2.95,3.51],[3.39,2.57],[3.34,2.45],[3.04,2.10],[2.77,3.04],[2.5,3.40],[2.23,3.28],[2.05,3.63],[1.79,3.93],[2.05,4.10],[2.32,3.87],[1.88,3.16],[1.70,2.81],[1.52,2.45],[1.34,2.22],[1.16,1.92],[0.98,2.45],[0.80,2.10],[0.89,1.75],[1.25,1.63],[1.61,1.98],[2.05,2.45],[2.41,2.57],[2.23,1.75],[1.61,1.51],[1.88,1.27],[2.6,2.9],[2.9,2.7],[2.4,3.0],[2.7,3.6],[3.6,4.6],[3.9,4.9],[4.2,5.8],[5.4,7.1],[5.6,6.6],[3.0,4.5],
[0.25,0.08],[0.32,0.18],[0.3,0.32],[0.4,0.25],[0.38,0.45],[0.48,0.38],[0.46,0.6],[0.56,0.5],[0.54,0.75],[0.64,0.65],[0.62,0.9],[0.72,0.8],[0.7,1.05],[0.8,0.95],[0.78,1.2],[0.88,1.1],[0.86,1.38],[0.96,1.25],[0.95,1.55],[1.05,1.42],[1.05,0.95],[1.12,1.7],[1.15,1.15],[1.2,1.5],[1.25,0.85],[1.3,1.85],[1.35,1.3],[1.4,1.65],[1.45,1.05],[1.5,2.0],[1.55,1.45],[1.6,1.8],[1.65,1.2],[1.7,2.2],[1.75,1.6],[1.8,1.95],[1.85,1.35],[1.9,2.4],[1.95,1.75],[2.0,2.1],[2.1,1.5],[2.15,2.3],[2.25,1.85],[2.35,2.5],[1.0,0.7],[0.85,0.6],[0.7,0.45],[0.55,0.28],[0.42,0.12],[1.2,0.6],[1.4,0.75],[1.6,0.9],[0.62,0.2],[0.78,0.35],[0.95,0.5],[1.1,2.0],[1.3,2.3],[2.3,1.3],[2.45,2.0],[1.0,1.8],[2.05,2.65],[0.5,0.88],[0.58,1.02],[0.66,1.18],[0.75,1.35],[1.08,1.1],[1.22,1.28]];
const coreF = [[-0.25,0.2],[-0.3,0.38],[-0.35,0.52],[-0.4,0.15],[-0.45,0.68],[-0.5,0.3],[-0.55,0.82],[-0.6,0.45],[-0.65,0.95],[-0.7,0.55],[-0.75,1.1],[-0.8,0.68],[-0.85,1.22],[-0.9,0.78],[-0.95,1.35],[-1.0,0.88],[-1.05,1.5],[-1.1,1.02],[-1.15,1.62],[-1.2,1.2],[-1.25,0.95],[-1.3,1.55],[-1.35,1.15],[-1.4,1.75],[-1.45,1.4],[-1.5,1.1],[-1.6,1.6],[-1.7,1.3],[-0.48,0.1],[-0.62,0.25],[-0.78,0.45],[-0.92,0.6],[-1.08,0.75],[-0.68,1.25],[-0.82,1.42],[-0.98,1.15],[-1.12,1.3],[-0.58,0.62],[-0.72,0.82],[-0.88,0.98],
[0.28,0.2],[0.32,0.38],[0.36,0.52],[0.4,0.12],[0.44,0.68],[0.48,0.28],[0.52,0.82],[0.56,0.42],[0.6,0.95],[0.64,0.55],[0.68,1.1],[0.72,0.65],[0.76,1.25],[0.8,0.78],[0.84,1.4],[0.88,0.88],[0.92,1.55],[0.96,1.0],[1.0,0.75],[1.05,1.2],[1.1,1.62],[1.15,0.98],[1.2,1.35],[1.25,1.1],[1.3,1.72],[1.35,1.25],[1.45,1.5],[1.55,1.25],[0.34,0.05],[0.5,0.15],[0.66,0.32],[0.82,0.5],[0.98,0.62],[0.58,0.72],[0.7,0.88],[0.86,1.05],[1.0,1.32],[1.12,1.45],[1.28,0.85],[1.4,1.0]];

const panels = [[dotsA.concat(coreA),circlesA],[dotsB.concat(coreB),circlesB],[dotsC.concat(coreC),circlesC],[dotsD.concat(coreD),circlesD],[dotsE.concat(coreE),circlesE],[dotsF.concat(coreF),circlesF]];
const fmt = d => d === 0 ? "0" : (d < 0 ? "-" : "") + Math.pow(2, Math.abs(d));
const wrap = document.getElementById("wrap");
const FONT = '"Liberation Sans", Arial, Helvetica, sans-serif';

panels.forEach(([dots, circles], i) => {
  const col = i % 2, row = Math.floor(i / 2);
  const svg = Plot.plot({
    width: 365, height: 357,
    marginLeft: 51, marginRight: 15, marginTop: 12, marginBottom: 50,
    style: {fontFamily: FONT, fontSize: "13px", background: "transparent", overflow: "visible", color: "#000"},
    x: {domain: [-8, 8], axis: null},
    y: {domain: [-0.46, 10], axis: null},
    marks: [
      Plot.frame({stroke: "#555", strokeWidth: 1.3}),
      // tick labels drawn as text marks positioned by the x / y scales
      Plot.text(xTicks, {x: d => d, text: fmt, frameAnchor: "bottom", lineAnchor: "middle", dy: 12, fontSize: 13, fontWeight: "bold", fill: "#000"}),
      Plot.text(yTicks, {y: d => d, text: d => String(d), frameAnchor: "left", textAnchor: "end", lineAnchor: "middle", dx: -5, fontSize: 13, fontWeight: "bold", fill: "#000"}),
      Plot.dot(dots, {x: d => d[0], y: d => d[1], r: 1.25, fill: "#000"}),
      Plot.dot(circles, {x: d => d[0], y: d => d[1], r: 4, fill: "white", stroke: "#666", strokeWidth: 1}),
      Plot.text([xTitles[i]], {text: d => d, frameAnchor: "bottom", lineAnchor: "middle", dy: 35, fontSize: 16.5, fill: "#222"}),
      Plot.text([yTitle], {text: d => d, frameAnchor: "left", textAnchor: "middle", lineAnchor: "middle", dx: -30, rotate: -90, fontSize: 16.5, fill: "#222"}),
      Plot.text([letters[i]], {text: d => d, frameAnchor: "top-left", textAnchor: "start", lineAnchor: "middle", dx: col === 0 ? -48 : -44, dy: 2, fontSize: 20, fontWeight: "bold", fill: "#000"})
    ]
  });
  svg.style.left = (col === 0 ? 0 : 408) + "px";
  svg.style.top = (row === 0 ? 0 : row === 1 ? 364 : 728) + "px";
  wrap.appendChild(svg);
});
</script>
</body></html>
